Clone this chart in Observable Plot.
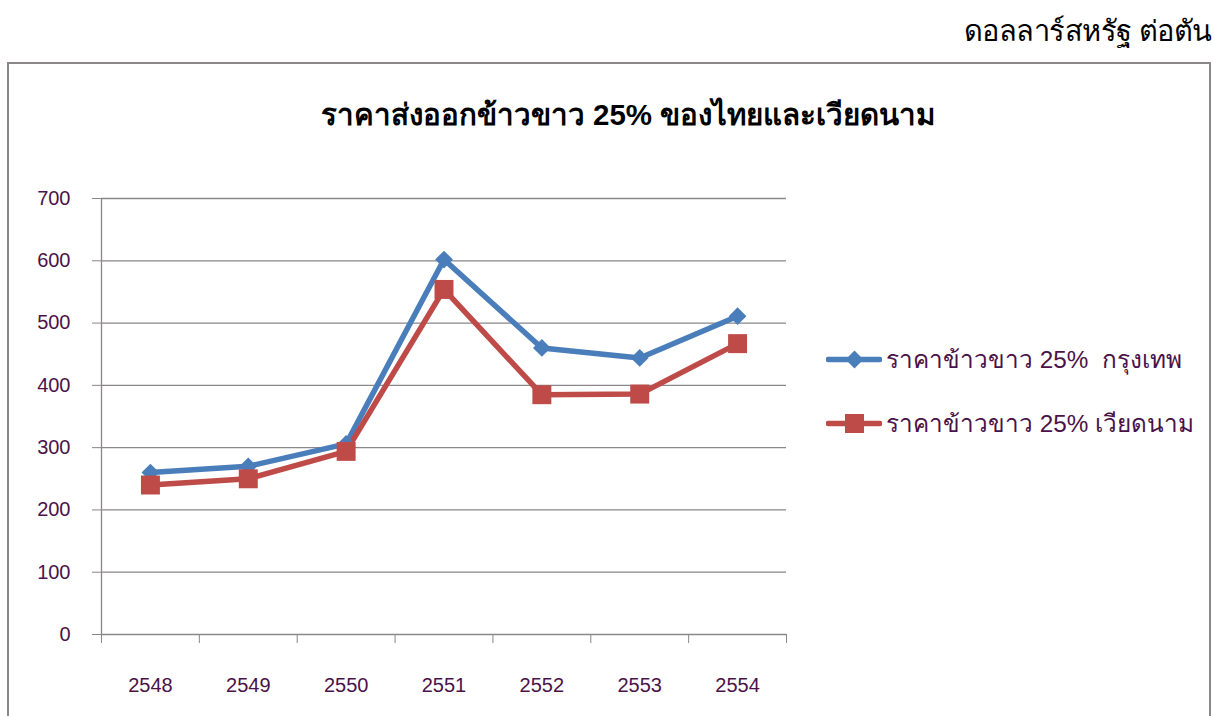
<!DOCTYPE html>
<html>
<head>
<meta charset="utf-8">
<script src="https://cdn.jsdelivr.net/npm/d3@7"></script>
<script src="https://cdn.jsdelivr.net/npm/@observablehq/plot@0.6"></script>
<style>
  html, body { margin: 0; padding: 0; background: #fff; }
  body { width: 1214px; height: 716px; position: relative; overflow: hidden;
         font-family: "Liberation Sans", Arial, "Noto Sans", sans-serif; }
  #unit { position: absolute; right: 2px; top: 8px; font-size: 29px; color: #000;
          font-family: "Noto Sans", "DejaVu Sans Condensed", sans-serif; letter-spacing: -0.5px; }
  #frame { position: absolute; left: 7px; top: 62px; width: 1200px; height: 700px;
           border: 2px solid #8a868a; }
  #title { position: absolute; left: 0; width: 1256px; top: 97px; text-align: center;
           font-size: 29.5px; font-weight: bold; color: #000; line-height: 36px; }
  #chart { position: absolute; left: 0; top: 0; }
  #legend { position: absolute; left: 826px; top: 341px; font-size: 24.3px; color: #4a1248; }
  .item { display: flex; align-items: center; height: 36px; margin-bottom: 28px; }
  .item svg { margin-right: 4px; }
</style>
</head>
<body>
<div id="unit">ดอลลาร์สหรัฐ ต่อตัน</div>
<div id="frame"></div>
<div id="chart"></div>
<div id="title">ราคาส่งออกข้าวขาว 25% ของไทยและเวียดนาม</div>
<div id="legend"></div>
<script>
const years = ["2548", "2549", "2550", "2551", "2552", "2553", "2554"];
const bangkok = [260, 270, 306, 602, 460, 444, 511];
const vietnam = [240, 250, 294, 554, 385, 386, 467];
const seriesNames = ["ราคาข้าวขาว 25%  กรุงเทพ", "ราคาข้าวขาว 25% เวียดนาม"];
const colors = ["#4a7ebb", "#be4b48"];
const symbols = ["diamond2", "square"];
const yTicks = [0, 100, 200, 300, 400, 500, 600, 700];

const rows = [];
years.forEach((y, i) => {
  rows.push({i, year: y, value: bangkok[i], s: seriesNames[0]});
});
years.forEach((y, i) => {
  rows.push({i, year: y, value: vietnam[i], s: seriesNames[1]});
});
const bk = rows.filter(d => d.s === seriesNames[0]);
const vn = rows.filter(d => d.s === seriesNames[1]);

const textColor = "#4a1248";
const gridColor = "#8a868a";

const chart = Plot.plot({
  width: 1214,
  height: 716,
  marginLeft: 101,
  marginRight: 428,
  marginTop: 198,
  marginBottom: 82,
  style: {fontFamily: "'Liberation Sans', Arial, sans-serif", fontSize: "20px", background: "transparent", color: textColor},
  x: {type: "linear", domain: [0, years.length], axis: null},
  y: {domain: [0, 700], axis: null},
  marks: [
    Plot.ruleY(yTicks, {stroke: gridColor, strokeWidth: 1.3, strokeOpacity: 1}),
    Plot.ruleX([0], {y1: 0, y2: 700, stroke: gridColor, strokeWidth: 1.3}),
    Plot.axisY({ticks: yTicks, label: null, tickSize: 9, tickPadding: 22, stroke: gridColor, strokeOpacity: 1, fill: textColor, tickFormat: d => String(d), fontSize: 20}),
    Plot.axisX({ticks: d3.range(0, years.length + 1), label: null, tickSize: 9, stroke: gridColor, strokeOpacity: 1, tickFormat: () => ""}),
    Plot.axisX({ticks: years.map((y, i) => i + 0.5), label: null, tickSize: 0, tickPadding: 43, fill: textColor, tickFormat: (d) => years[Math.floor(d)], fontSize: 20}),
    Plot.line(bk, {x: d => d.i + 0.5, y: "value", stroke: colors[0], strokeWidth: 5.5, curve: "linear"}),
    Plot.line(vn, {x: d => d.i + 0.5, y: "value", stroke: colors[1], strokeWidth: 5.5, curve: "linear"}),
    Plot.dot(bk, {x: d => d.i + 0.5, y: "value", symbol: symbols[0], r: 8, fill: colors[0], stroke: "none"}),
    Plot.dot(vn, {x: d => d.i + 0.5, y: "value", symbol: symbols[1], r: 10.7, fill: colors[1], stroke: "none"})
  ]
});
document.getElementById("chart").appendChild(chart);

// legend
const leg = document.getElementById("legend");
seriesNames.forEach((name, k) => {
  const item = document.createElement("div");
  item.className = "item";
  const sw = Plot.plot({
    width: 56, height: 30, margin: 0,
    x: {domain: [0, 1], axis: null}, y: {domain: [0, 1], axis: null},
    style: {background: "transparent"},
    marks: [
      Plot.ruleY([0.5], {x1: 0.04, x2: 0.96, stroke: colors[k], strokeWidth: 5.5, strokeLinecap: "round"}),
      Plot.dot([0.5], {x: 0.5, y: 0.5, symbol: symbols[k], r: k === 0 ? 8 : 10.7, fill: colors[k], stroke: "none"})
    ]
  });
  item.appendChild(sw);
  const t = document.createElement("span");
  t.textContent = name;
  t.style.whiteSpace = "pre";
  item.appendChild(t);
  leg.appendChild(item);
});
</script>
</body>
</html>
